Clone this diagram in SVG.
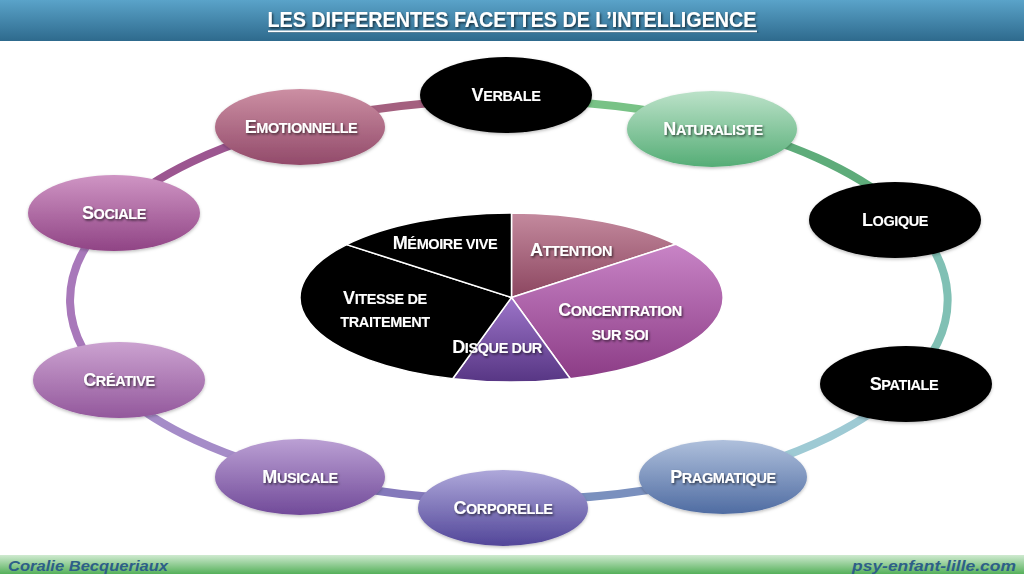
<svg xmlns="http://www.w3.org/2000/svg" width="1024" height="576" viewBox="0 0 1024 576">
<defs>
<style>
.lbl{font-family:"Liberation Sans",Arial,sans-serif;font-weight:bold;font-size:18px;fill:#fff;text-anchor:middle;letter-spacing:-0.4px;filter:url(#ts)}
.sc{font-size:14.5px}
.ring{fill:none;stroke-width:8;stroke-linecap:butt}
.slice{stroke:#fff;stroke-width:1.5;stroke-linejoin:round}
.foot{font-family:"Liberation Sans",Arial,sans-serif;font-weight:bold;font-style:italic;font-size:15px;fill:#2d5f88}
</style>
<filter id="ts" x="-10%" y="-30%" width="125%" height="170%">
<feDropShadow dx="1.2" dy="1.5" stdDeviation="0.8" flood-color="#000" flood-opacity="0.65"/>
</filter>
<filter id="ns" x="-10%" y="-10%" width="125%" height="130%">
<feDropShadow dx="0" dy="1.5" stdDeviation="1.5" flood-color="#000" flood-opacity="0.25"/>
</filter>
<linearGradient id="gHead" x1="0" y1="0" x2="0" y2="1"><stop offset="0" stop-color="#5aa3c9"/><stop offset="1" stop-color="#2e6a8d"/></linearGradient>
<linearGradient id="gFoot" x1="0" y1="0" x2="0" y2="1"><stop offset="0" stop-color="#cfead0"/><stop offset="1" stop-color="#55b05a"/></linearGradient>
<linearGradient id="gEmo" x1="0" y1="0" x2="0" y2="1"><stop offset="0" stop-color="#cc8fa3"/><stop offset="1" stop-color="#924a6a"/></linearGradient>
<linearGradient id="gNat" x1="0" y1="0" x2="0" y2="1"><stop offset="0" stop-color="#bce2c9"/><stop offset="1" stop-color="#55ad76"/></linearGradient>
<linearGradient id="gSoc" x1="0" y1="0" x2="0" y2="1"><stop offset="0" stop-color="#cf95c4"/><stop offset="1" stop-color="#904485"/></linearGradient>
<linearGradient id="gCre" x1="0" y1="0" x2="0" y2="1"><stop offset="0" stop-color="#cba2d0"/><stop offset="1" stop-color="#93589c"/></linearGradient>
<linearGradient id="gMus" x1="0" y1="0" x2="0" y2="1"><stop offset="0" stop-color="#bba0d4"/><stop offset="1" stop-color="#714a99"/></linearGradient>
<linearGradient id="gCor" x1="0" y1="0" x2="0" y2="1"><stop offset="0" stop-color="#aea8da"/><stop offset="1" stop-color="#524699"/></linearGradient>
<linearGradient id="gPra" x1="0" y1="0" x2="0" y2="1"><stop offset="0" stop-color="#afc0dc"/><stop offset="1" stop-color="#4f6ca2"/></linearGradient>
<linearGradient id="gAtt" x1="0" y1="0" x2="0" y2="1"><stop offset="0" stop-color="#c48a9e"/><stop offset="1" stop-color="#8c4660"/></linearGradient>
<linearGradient id="gCon" x1="0" y1="0" x2="0" y2="1"><stop offset="0" stop-color="#c884c6"/><stop offset="1" stop-color="#8c3c86"/></linearGradient>
<linearGradient id="gDis" x1="0" y1="0" x2="0" y2="1"><stop offset="0" stop-color="#9c74c8"/><stop offset="1" stop-color="#573684"/></linearGradient>
</defs>
<rect width="1024" height="576" fill="#fff"/>
<g id="header">
<rect x="0" y="0" width="1024" height="41" fill="url(#gHead)"/>
<text x="512" y="27" font-family="'Liberation Sans',Arial,sans-serif" font-weight="bold" font-size="22" fill="#fff" text-anchor="middle" textLength="489" lengthAdjust="spacingAndGlyphs" filter="url(#ts)">LES DIFFERENTES FACETTES DE L’INTELLIGENCE</text>
<rect x="268" y="30.5" width="489" height="1.6" fill="#fff" filter="url(#ts)"/>
</g>
<g id="connectors">
<path class="ring" stroke="#a4607f" d="M300,124 A439,200 0 0 1 506,100"/>
<path class="ring" stroke="#78c286" d="M506,100 A439,200 0 0 1 712,123"/>
<path class="ring" stroke="#5eac7a" d="M712,123 A439,200 0 0 1 895,205"/>
<path class="ring" stroke="#80c0b4" d="M895,205 A439,200 0 0 1 906,385"/>
<path class="ring" stroke="#9ecad4" d="M906,385 A439,200 0 0 1 723,475"/>
<path class="ring" stroke="#7a90be" d="M723,475 A439,200 0 0 1 503,500"/>
<path class="ring" stroke="#8479bb" d="M503,500 A439,200 0 0 1 300,476"/>
<path class="ring" stroke="#a58cc8" d="M300,476 A439,200 0 0 1 119,392"/>
<path class="ring" stroke="#a878ba" d="M119,392 A439,200 0 0 1 114,213"/>
<path class="ring" stroke="#9c5690" d="M114,213 A439,200 0 0 1 300,124"/>
</g>
<g id="node-emotionnelle"><ellipse cx="300" cy="127" rx="85" ry="38" fill="url(#gEmo)" filter="url(#ns)"/><text class="lbl" x="301" y="133">E<tspan class="sc">MOTIONNELLE</tspan></text></g>
<g id="node-verbale"><ellipse cx="506" cy="95" rx="86" ry="38" fill="#000" filter="url(#ns)"/><text class="lbl" x="506" y="101">V<tspan class="sc">ERBALE</tspan></text></g>
<g id="node-naturaliste"><ellipse cx="712" cy="129" rx="85" ry="38" fill="url(#gNat)" filter="url(#ns)"/><text class="lbl" x="713" y="135">N<tspan class="sc">ATURALISTE</tspan></text></g>
<g id="node-logique"><ellipse cx="895" cy="220" rx="86" ry="38" fill="#000" filter="url(#ns)"/><text class="lbl" x="895" y="226">L<tspan class="sc">OGIQUE</tspan></text></g>
<g id="node-spatiale"><ellipse cx="906" cy="384" rx="86" ry="38" fill="#000" filter="url(#ns)"/><text class="lbl" x="904" y="390">S<tspan class="sc">PATIALE</tspan></text></g>
<g id="node-pragmatique"><ellipse cx="723" cy="477" rx="84" ry="37" fill="url(#gPra)" filter="url(#ns)"/><text class="lbl" x="723" y="483">P<tspan class="sc">RAGMATIQUE</tspan></text></g>
<g id="node-corporelle"><ellipse cx="503" cy="508" rx="85" ry="38" fill="url(#gCor)" filter="url(#ns)"/><text class="lbl" x="503" y="514">C<tspan class="sc">ORPORELLE</tspan></text></g>
<g id="node-musicale"><ellipse cx="300" cy="477" rx="85" ry="38" fill="url(#gMus)" filter="url(#ns)"/><text class="lbl" x="300" y="483">M<tspan class="sc">USICALE</tspan></text></g>
<g id="node-creative"><ellipse cx="119" cy="380" rx="86" ry="38" fill="url(#gCre)" filter="url(#ns)"/><text class="lbl" x="119" y="386">C<tspan class="sc">RÉATIVE</tspan></text></g>
<g id="node-sociale"><ellipse cx="114" cy="213" rx="86" ry="38" fill="url(#gSoc)" filter="url(#ns)"/><text class="lbl" x="114" y="219">S<tspan class="sc">OCIALE</tspan></text></g>
<g id="pie">
<g id="slice-attention"><path class="slice" fill="url(#gAtt)" d="M511.5,297.5 L511.5,213 A211.5,84.5 0 0 1 675.6,244.2 Z"/><text class="lbl" x="571" y="256">A<tspan class="sc">TTENTION</tspan></text></g>
<g id="slice-concentration"><path class="slice" fill="url(#gCon)" d="M511.5,297.5 L675.6,244.2 A211.5,84.5 0 0 1 570.3,378.7 Z"/><text class="lbl" x="620" y="316">C<tspan class="sc">ONCENTRATION</tspan></text><text class="lbl sc" x="620" y="340">SUR SOI</text></g>
<g id="slice-disque"><path class="slice" fill="url(#gDis)" d="M511.5,297.5 L570.3,378.7 A211.5,84.5 0 0 1 452.7,378.7 Z"/></g>
<g id="slice-vitesse"><path class="slice" fill="#000" d="M511.5,297.5 L452.7,378.7 A211.5,84.5 0 0 1 346.7,244.6 Z"/><text class="lbl" x="385" y="304">V<tspan class="sc">ITESSE DE</tspan></text><text class="lbl sc" x="385" y="327">TRAITEMENT</text></g>
<g id="slice-memoire"><path class="slice" fill="#000" d="M511.5,297.5 L346.7,244.6 A211.5,84.5 0 0 1 511.5,213 Z"/><text class="lbl" x="445" y="249">M<tspan class="sc">ÉMOIRE VIVE</tspan></text></g>
<text class="lbl" x="497" y="353">D<tspan class="sc">ISQUE DUR</tspan></text>
</g>
<g id="footer">
<rect x="0" y="555" width="1024" height="19" fill="url(#gFoot)"/>
<text class="foot" x="8" y="571" textLength="160" lengthAdjust="spacingAndGlyphs">Coralie Becqueriaux</text>
<text class="foot" x="1016" y="571" text-anchor="end" textLength="164" lengthAdjust="spacingAndGlyphs">psy-enfant-lille.com</text>
</g>
</svg>
